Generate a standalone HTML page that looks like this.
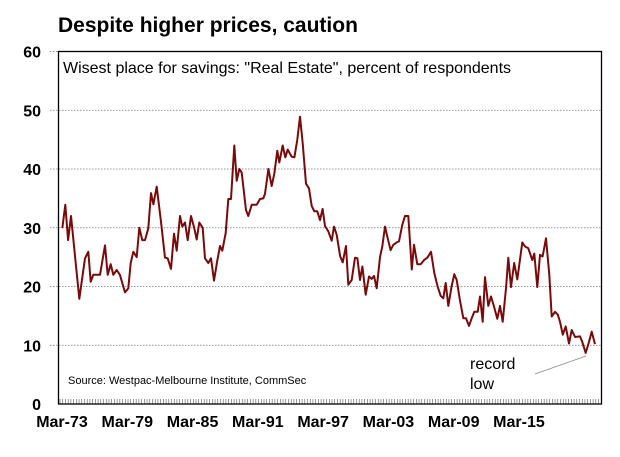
<!DOCTYPE html>
<html><head><meta charset="utf-8"><style>
body{margin:0;background:#fff;font-family:"Liberation Sans",Arial,sans-serif}
svg{display:block}
</style></head><body>
<svg id="chart" width="620" height="457" xmlns="http://www.w3.org/2000/svg">
<text x="58" y="32" font-size="21" font-weight="bold" fill="#000">Despite higher prices, caution</text>
<g id="grid"></g><g id="yticks"></g><g id="xticks"></g>
<rect x="58.5" y="51.5" width="543" height="352.5" fill="none" stroke="#000" stroke-width="1.3"/>
<text x="63" y="73" font-size="16" fill="#000">Wisest place for savings: "Real Estate", percent of respondents</text>
<text x="68" y="384" font-size="11" fill="#000">Source: Westpac-Melbourne Institute, CommSec</text>
<path id="line" fill="none" stroke="#7a0a0a" stroke-width="2" stroke-linejoin="round"/>
<text x="470" y="369" font-size="16" fill="#000">record</text>
<text x="470" y="389" font-size="16" fill="#000">low</text>
<line x1="535" y1="374" x2="586" y2="356" stroke="#888" stroke-width="0.8"/>
</svg>
<script>
const yearsSinceMar73=[0.21,0.49,0.74,1.01,1.77,2.30,2.60,2.82,3.06,3.68,4.14,4.38,4.66,4.90,5.21,5.51,5.97,6.28,6.50,6.74,7.05,7.29,7.56,7.81,8.12,8.36,8.58,8.89,9.28,9.65,9.90,10.20,10.48,10.73,11.03,11.24,11.49,11.74,12.04,12.34,12.56,12.80,13.12,13.33,13.63,13.88,14.15,14.46,14.71,14.92,15.23,15.47,15.72,16.02,16.24,16.48,16.70,17.10,17.31,17.62,18.08,18.38,18.69,18.84,19.15,19.46,19.70,19.97,20.16,20.47,20.71,20.93,21.30,21.54,21.81,22.06,22.31,22.61,22.89,23.13,23.37,23.65,23.90,24.14,24.36,24.66,24.97,25.18,25.43,25.74,25.98,26.29,26.50,26.81,27.11,27.33,27.57,27.79,28.10,28.40,28.65,28.86,29.11,29.41,29.62,29.87,30.12,30.39,30.63,30.95,31.16,31.46,31.71,32.01,32.33,32.54,32.84,33.15,33.46,33.76,34.10,34.40,34.71,34.99,35.23,35.45,35.69,36.00,36.24,36.46,36.76,37.07,37.32,37.59,37.84,38.08,38.39,38.60,38.85,39.06,39.37,39.61,39.89,40.19,40.44,40.69,40.99,41.20,41.45,41.75,42.03,42.49,42.74,43.04,43.41,43.59,43.87,44.12,44.36,44.67,44.97,45.19,45.50,45.75,45.96,46.21,46.48,46.78,47.03,47.33,47.79,48.00,48.32,48.59,48.87,49.17];
const values=[29.9,33.9,27.9,32,17.9,24.8,25.9,20.8,22,22,27,22,23.8,22,22.8,22,19,19.7,24,25.9,25,30,27.9,27.9,29.9,35.9,34,37,31,24.9,24.8,23,29,26.1,32,30.2,30.9,27.9,32,29.9,28,30.9,30,24.8,24,24.8,21,24.4,26.9,26.1,29.1,34.9,34.9,44,38,40,39.4,33,32,33.9,33.9,34.9,35,35.8,40,37.1,39.2,43.1,41.1,44,42,43.3,42.1,42,45,48.9,44.4,37.5,36.7,33.7,32.8,32.8,31.3,33.2,30.3,29.4,27.8,30.2,28.8,25.2,24.1,26.9,20.3,21.1,24.9,24.8,21.1,23.4,18.6,21.7,21.3,21.8,19.7,25,26.8,30.2,28.2,26.2,27.1,27.5,27.7,30.5,32,32,22.9,27.1,23.8,23.8,24.5,24.9,25.9,22.3,20,18.4,18,20.6,16.7,20.1,22.1,21.1,17.7,14.6,14.6,13.3,14.6,15.7,15.7,18.3,14,21.6,16.7,18.3,16.6,14.5,16.7,14,19.7,24.9,19.9,24,21.2,27.5,26.8,26.5,24.5,25.6,19.9,25.4,25.1,28.2,22,14.9,15.7,15.2,14,11.8,13.2,10.3,12.6,11.4,11.5,10.6,8.7,10.4,12.3,10.2];
const yTicks=[0,10,20,30,40,50,60];
const xTickLabels=["Mar-73","Mar-79","Mar-85","Mar-91","Mar-97","Mar-03","Mar-09","Mar-15"];
const xTickYears=[0,6,12,18,24,30,36,42];
const NS="http://www.w3.org/2000/svg";
const X0=60,PX_PER_YR=10.88,Y0=404,PX_PER_UNIT=352.5/60;
function xs(t){return X0+t*PX_PER_YR;}
function ys(v){return Y0-v*PX_PER_UNIT;}
function mk(tag,attrs,parent){const e=document.createElementNS(NS,tag);for(const k in attrs)e.setAttribute(k,attrs[k]);parent.appendChild(e);return e;}
const grid=document.getElementById('grid'),yt=document.getElementById('yticks'),xt=document.getElementById('xticks');
yTicks.forEach(v=>{
  const y=ys(v);
  if(v>0){const g=mk('line',{x1:50,x2:601,y1:y,y2:y,stroke:'#777','stroke-width':0.8,'stroke-dasharray':'1.5,1.5'},grid);
  
  }
  const t=mk('text',{x:41,y:y+6,'text-anchor':'end','font-size':16,'font-weight':'bold'},yt);
  t.textContent=v;
  
  
});
for(let q=0;q<=49.5*4;q++){
  const x=xs(q/4);if(x>601)break;
  const m=mk('line',{x1:x,x2:x,y1:399,y2:404,stroke:'#555','stroke-width':0.6},xt);
  
  
}
xTickLabels.forEach((lab,i)=>{
  const t=mk('text',{x:xs(xTickYears[i])+2,y:427,'text-anchor':'middle','font-size':16,'font-weight':'bold'},xt);
  t.textContent=lab;
  
  
});
document.getElementById('line').setAttribute('d',values.map((v,i)=>(i?'L':'M')+xs(yearsSinceMar73[i]).toFixed(1)+','+ys(v).toFixed(1)).join(''));
</script>
</body></html>
